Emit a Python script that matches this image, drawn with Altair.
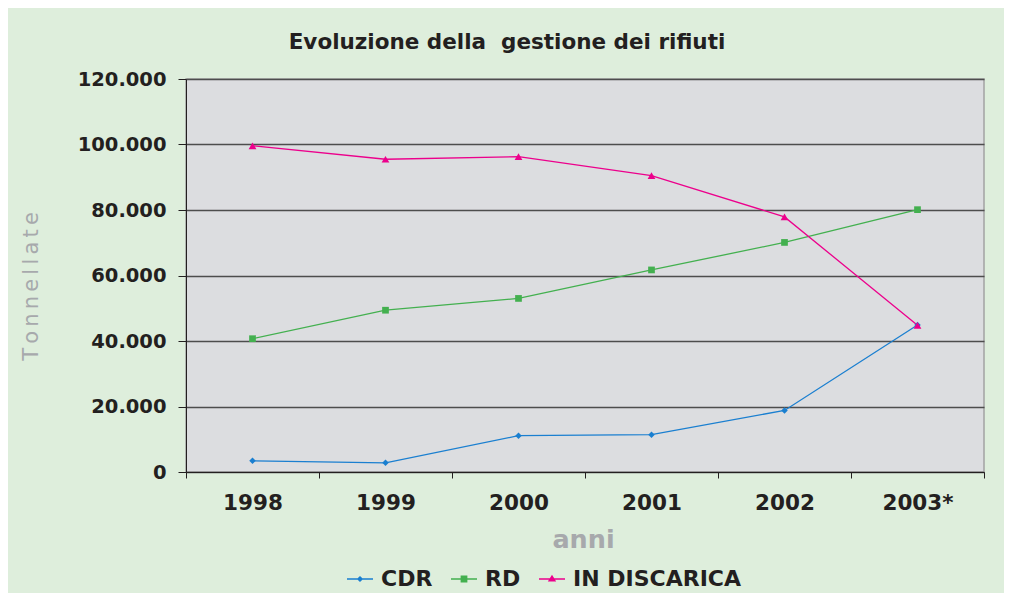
import altair as alt
import pandas as pd

# ---- data ----
years = ["1998", "1999", "2000", "2001", "2002", "2003*"]
series = ["CDR", "RD", "IN DISCARICA"]
cdr = [3400, 2800, 11100, 11400, 18800, 44900]
rd = [40700, 49400, 53000, 61700, 70100, 80100]
discarica = [99600, 95500, 96300, 90500, 77900, 44800]
y_ticks = [0, 20000, 40000, 60000, 80000, 100000, 120000]

# ---- styles ----
colors = ["#1a7fd0", "#43b04f", "#ec008c"]
marker_shapes = ["diamond", "square", "triangle-up"]
marker_sizes = [42, 45, 60]
bar = "M-1,-0.055L1,-0.055L1,0.055L-1,0.055Z"
legend_paths = [
    bar + "M0,-0.24L0.24,0L0,0.24L-0.24,0Z",
    bar + "M-0.26,-0.26L0.26,-0.26L0.26,0.26L-0.26,0.26Z",
    bar + "M0,-0.32L0.32,0.2L-0.32,0.2Z",
]
TEXT = "#231f20"
GREY = "#a7a9ac"
FONT = "DejaVu Sans"

rows = []
for s, vals in zip(series, [cdr, rd, discarica]):
    for yr, v in zip(years, vals):
        rows.append({"anno": yr, "serie": s, "valore": v})
df = pd.DataFrame(rows)

color_scale = alt.Scale(domain=series, range=colors)

x_enc = alt.X(
    "anno:N",
    sort=years,
    bandPosition=0.5,
    scale=alt.Scale(type="band", paddingInner=0, paddingOuter=0),
    axis=alt.Axis(
        title="anni",
        tickBand="extent",
        labelAngle=0,
        grid=False,
        domainColor=TEXT,
        domainWidth=1,
        tickColor=TEXT,
        tickSize=6,
        labelPadding=14,
        labelFont=FONT,
        labelFontSize=21.5,
        labelFontWeight="bold",
        labelColor=TEXT,
        titleFont=FONT,
        titleFontSize=25.5,
        titleFontWeight="bold",
        titleColor=GREY,
        titleX=397,
        titleY=75,
        titleBaseline="alphabetic",
        titleAlign="center",
    ),
)

y_enc = alt.Y(
    "valore:Q",
    scale=alt.Scale(domain=[0, 120000]),
    axis=alt.Axis(
        values=y_ticks,
        labelExpr="replace(format(datum.value, ','), ',', '.')",
        title="\u2009".join("Tonnellate"),
        grid=True,
        gridColor="#4d4d4d",
        gridWidth=1.3,
        domainColor=TEXT,
        domainWidth=1,
        tickColor=TEXT,
        tickSize=8,
        labelPadding=12,
        labelFont=FONT,
        labelFontSize=19.5,
        labelFontWeight="bold",
        labelColor=TEXT,
        titleFont=FONT,
        titleFontSize=21,
        titleFontWeight="normal",
        titleColor=GREY,
        titleAngle=270,
        titleX=-149,
        titleY=207,
        titleAlign="center",
        titleBaseline="alphabetic",
    ),
)

base = alt.Chart(df)

lines = base.mark_line(strokeWidth=1.3).encode(
    x=x_enc,
    y=y_enc,
    color=alt.Color("serie:N", scale=color_scale, legend=None),
)

point_layers = []
for s, shp, sz in zip(series, marker_shapes, marker_sizes):
    point_layers.append(
        base.transform_filter(alt.datum.serie == s)
        .mark_point(shape=shp, filled=True, size=sz, opacity=1)
        .encode(
            x=x_enc,
            y=y_enc,
            color=alt.Color("serie:N", scale=color_scale, legend=None),
        )
    )

leg = alt.Legend(
    title=None,
    orient="none",
    legendX=161,
    legendY=487,
    direction="horizontal",
    symbolSize=676,
    symbolOpacity=1,
    symbolStrokeWidth=0,
    labelFont=FONT,
    labelFontSize=22,
    labelFontWeight="bold",
    labelColor=TEXT,
    labelOffset=8,
    labelLimit=0,
    columnPadding=18,
)

legend_layer = base.mark_point(filled=True, opacity=0, size=10).encode(
    x=x_enc,
    y=y_enc,
    color=alt.Color("serie:N", scale=color_scale, legend=leg),
    shape=alt.Shape(
        "serie:N", scale=alt.Scale(domain=series, range=legend_paths), legend=leg
    ),
)

chart = (
    alt.layer(lines, *point_layers, legend_layer)
    .resolve_legend(color="independent", shape="independent")
    .properties(
        width=798,
        height=393,
        background="#deeedc",
        padding={"left": 178, "top": 71, "right": 20, "bottom": 121},
        autosize=alt.AutoSizeParams(type="none"),
        title=alt.TitleParams(
            text="Evoluzione della\u00a0 gestione dei rifiuti",
            font=FONT,
            fontSize=21.5,
            fontWeight="bold",
            color=TEXT,
            anchor="middle",
            dx=-78,
            offset=16,
        ),
    )
    .configure_view(fill="#dcdde0", stroke="#a3a3a3", strokeWidth=1.5)
)

chart.save("out.html", embed_options={"renderer": "svg", "actions": False})
